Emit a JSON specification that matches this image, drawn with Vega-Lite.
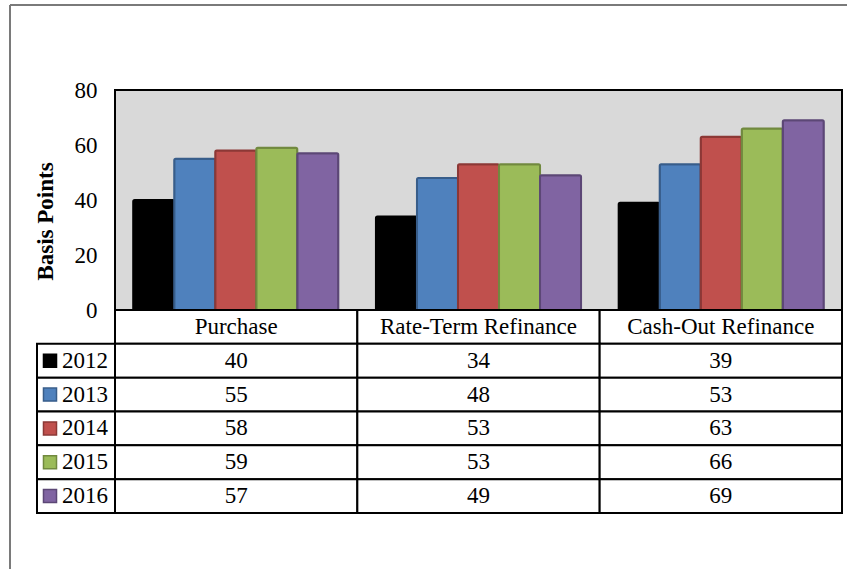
{
  "$schema": "https://vega.github.io/schema/vega-lite/v6.json",
  "padding": {"left": 9, "top": 4, "right": 0, "bottom": 0},
  "background": "white",
  "config": {
    "font": "Liberation Serif",
    "text": {"font": "Liberation Serif", "fontSize": 23, "color": "#000000"}
  },
  "datasets": {
    "rates": [
      {"loan": "Purchase", "year": "2012", "bp": 40},
      {"loan": "Purchase", "year": "2013", "bp": 55},
      {"loan": "Purchase", "year": "2014", "bp": 58},
      {"loan": "Purchase", "year": "2015", "bp": 59},
      {"loan": "Purchase", "year": "2016", "bp": 57},
      {"loan": "Rate-Term Refinance", "year": "2012", "bp": 34},
      {"loan": "Rate-Term Refinance", "year": "2013", "bp": 48},
      {"loan": "Rate-Term Refinance", "year": "2014", "bp": 53},
      {"loan": "Rate-Term Refinance", "year": "2015", "bp": 53},
      {"loan": "Rate-Term Refinance", "year": "2016", "bp": 49},
      {"loan": "Cash-Out Refinance", "year": "2012", "bp": 39},
      {"loan": "Cash-Out Refinance", "year": "2013", "bp": 53},
      {"loan": "Cash-Out Refinance", "year": "2014", "bp": 63},
      {"loan": "Cash-Out Refinance", "year": "2015", "bp": 66},
      {"loan": "Cash-Out Refinance", "year": "2016", "bp": 69}
    ]
  },
  "columns": 3,
  "spacing": 0,
  "bounds": "flush",
  "align": "each",
  "concat": [
    {
      "width": 27, "height": 85,
      "data": {"values": []},
      "mark": "point",
      "view": {"fill": null, "stroke": "#7a7a7a", "strokeWidth": 2, "strokeDash": [27, 112, 85, 0]}
    },
    {
      "width": 78, "height": 85,
      "data": {"values": []},
      "mark": "point",
      "view": {"fill": null, "stroke": "#7a7a7a", "strokeWidth": 2, "strokeDash": [78, 248]}
    },
    {
      "width": 737, "height": 85,
      "data": {"values": []},
      "mark": "point",
      "view": {"fill": null, "stroke": "#7a7a7a", "strokeWidth": 2, "strokeDash": [737, 907]}
    },
    {
      "width": 27, "height": 220,
      "data": {"values": []},
      "mark": "point",
      "view": {"fill": null, "stroke": "#7a7a7a", "strokeWidth": 2, "strokeDash": [0, 274, 220, 0]}
    },
    {
      "width": 78, "height": 220,
      "data": {"values": []},
      "mark": "point",
      "view": {"fill": null, "stroke": null}
    },
    {
      "width": 727, "height": 220,
      "data": {"name": "rates"},
      "view": {"fill": "#d9d9d9", "stroke": "#000000", "strokeWidth": 2},
      "mark": {"type": "bar", "strokeWidth": 2, "cornerRadiusTopLeft": 1.5, "cornerRadiusTopRight": 1.5},
      "encoding": {
        "x": {
          "field": "loan", "type": "nominal",
          "scale": {"domain": ["Purchase", "Rate-Term Refinance", "Cash-Out Refinance"], "paddingInner": 0.155, "paddingOuter": 0.075},
          "axis": null
        },
        "xOffset": {
          "field": "year", "type": "nominal",
          "scale": {"domain": ["2012", "2013", "2014", "2015", "2016"], "paddingInner": 0, "paddingOuter": 0}
        },
        "y": {
          "field": "bp", "type": "quantitative",
          "scale": {"domain": [0, 80], "nice": false},
          "axis": {
            "title": "Basis Points",
            "values": [0, 20, 40, 60, 80],
            "domain": false, "ticks": false, "grid": false,
            "labelFont": "Liberation Serif", "labelFontSize": 23, "labelColor": "#000000", "labelPadding": 18,
            "titleFont": "Liberation Serif", "titleFontSize": 23, "titleFontWeight": "bold", "titleColor": "#000000",
            "titlePadding": 17, "titleY": 131
          }
        },
        "color": {
          "field": "year", "type": "nominal",
          "scale": {"domain": ["2012", "2013", "2014", "2015", "2016"], "range": ["#000000", "#4f81bd", "#c0504d", "#9bbb59", "#8064a2"]},
          "legend": null
        },
        "stroke": {
          "field": "year", "type": "nominal",
          "scale": {"domain": ["2012", "2013", "2014", "2015", "2016"], "range": ["#000000", "#385d8a", "#8c3836", "#71893f", "#5c4776"]},
          "legend": null
        }
      }
    },
    {
      "width": 27, "height": 300,
      "data": {"values": []},
      "mark": "point",
      "view": {"fill": null, "stroke": "#7a7a7a", "strokeWidth": 2, "strokeDash": [0, 354, 300, 0]}
    },
    {
      "width": 78, "height": 203,
      "data": {"name": "rates"},
      "view": {"fill": null, "stroke": null},
      "transform": [{"filter": "datum.loan === 'Purchase'"}],
      "encoding": {
        "y": {
          "field": "year", "type": "nominal",
          "scale": {"domain": ["header", "2012", "2013", "2014", "2015", "2016"], "paddingInner": 0, "paddingOuter": 0},
          "axis": null
        }
      },
      "layer": [
        {"mark": {"type": "rect", "fill": "#ffffff", "stroke": "#000000", "strokeWidth": 2}},
        {
          "mark": {"type": "point", "shape": "square", "filled": true, "size": 170, "xOffset": -26, "strokeWidth": 1.5, "opacity": 1},
          "encoding": {
            "color": {
              "field": "year", "type": "nominal",
              "scale": {"domain": ["2012", "2013", "2014", "2015", "2016"], "range": ["#000000", "#4f81bd", "#c0504d", "#9bbb59", "#8064a2"]},
              "legend": null
            },
            "stroke": {
              "field": "year", "type": "nominal",
              "scale": {"domain": ["2012", "2013", "2014", "2015", "2016"], "range": ["#000000", "#385d8a", "#8c3836", "#71893f", "#5c4776"]},
              "legend": null
            }
          }
        },
        {
          "mark": {"type": "text", "align": "left", "baseline": "middle", "dx": -14, "font": "Liberation Serif", "fontSize": 23},
          "encoding": {"text": {"field": "year"}}
        }
      ]
    },
    {
      "width": 727, "height": 203,
      "data": {"name": "rates"},
      "view": {"fill": null, "stroke": null},
      "encoding": {
        "x": {
          "field": "loan", "type": "nominal",
          "scale": {"domain": ["Purchase", "Rate-Term Refinance", "Cash-Out Refinance"], "paddingInner": 0, "paddingOuter": 0},
          "axis": null
        }
      },
      "layer": [
        {
          "transform": [{"aggregate": [{"op": "count", "as": "n"}], "groupby": ["loan"]}],
          "mark": {"type": "rect", "fill": "#ffffff", "stroke": "#000000", "strokeWidth": 2},
          "encoding": {
            "y": {"datum": "header", "type": "nominal",
              "scale": {"domain": ["header", "2012", "2013", "2014", "2015", "2016"], "paddingInner": 0, "paddingOuter": 0},
              "axis": null}
          }
        },
        {
          "mark": {"type": "rect", "fill": "#ffffff", "stroke": "#000000", "strokeWidth": 2},
          "encoding": {
            "y": {"field": "year", "type": "nominal",
              "scale": {"domain": ["header", "2012", "2013", "2014", "2015", "2016"], "paddingInner": 0, "paddingOuter": 0},
              "axis": null}
          }
        },
        {
          "transform": [{"aggregate": [{"op": "count", "as": "n"}], "groupby": ["loan"]}],
          "mark": {"type": "text", "baseline": "middle", "font": "Liberation Serif", "fontSize": 23},
          "encoding": {
            "y": {"datum": "header", "type": "nominal"},
            "text": {"field": "loan"}
          }
        },
        {
          "mark": {"type": "text", "baseline": "middle", "font": "Liberation Serif", "fontSize": 23},
          "encoding": {
            "y": {"field": "year", "type": "nominal"},
            "text": {"field": "bp", "type": "quantitative"}
          }
        }
      ]
    }
  ]
}
